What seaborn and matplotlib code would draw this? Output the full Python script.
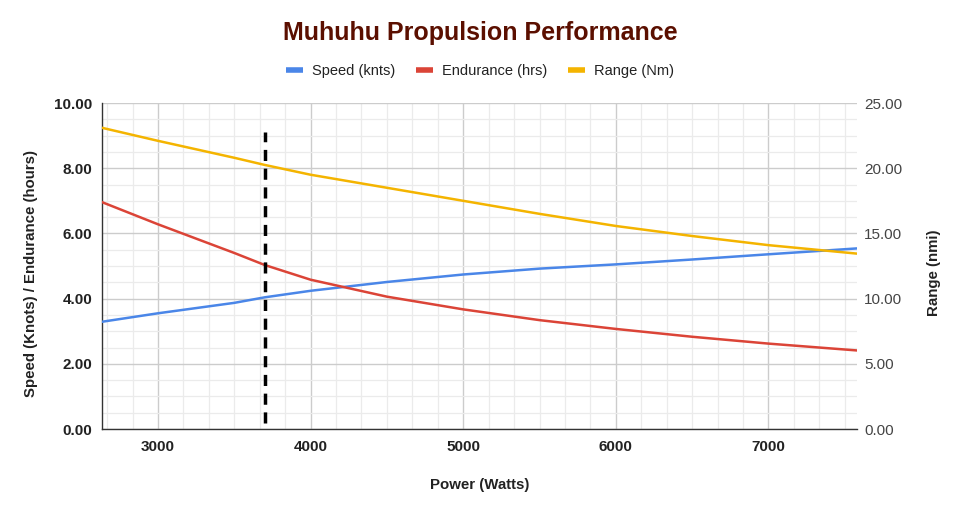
import matplotlib
matplotlib.use("Agg")
import matplotlib.pyplot as plt
from matplotlib.ticker import MultipleLocator, FormatStrFormatter
from matplotlib.lines import Line2D
import seaborn as sns
import pandas as pd

power = [2633, 3000, 3500, 3700, 4000, 4500, 5000, 5500, 6000, 6500, 7000, 7580]
speed = [3.29, 3.55, 3.87, 4.04, 4.24, 4.51, 4.74, 4.92, 5.05, 5.20, 5.36, 5.54]
endurance = [6.96, 6.28, 5.40, 5.03, 4.58, 4.06, 3.67, 3.34, 3.07, 2.83, 2.62, 2.41]
range_nm = [23.1, 22.1, 20.8, 20.25, 19.5, 18.5, 17.5, 16.5, 15.57, 14.8, 14.1, 13.45]
marker_power = 3700
marker_span = [0.2, 9.1]

series_names = ["Speed (knts)", "Endurance (hrs)", "Range (Nm)"]
colors = ["#4a86e8", "#db4437", "#f4b400"]

df = pd.DataFrame({"power": power, "speed": speed, "endurance": endurance, "range": range_nm})

sns.set_theme(style="white")
plt.rcParams["font.family"] = ["Liberation Sans", "DejaVu Sans"]

fig = plt.figure(figsize=(9.61, 5.13), dpi=100)
ax = fig.add_axes([0.1061, 0.1637, 0.7857, 0.6355])
ax2 = ax.twinx()

sns.lineplot(data=df, x="power", y="speed", ax=ax, color=colors[0], lw=1.8, zorder=3)
sns.lineplot(data=df, x="power", y="endurance", ax=ax, color=colors[1], lw=1.8, zorder=3)
sns.lineplot(data=df, x="power", y="range", ax=ax2, color=colors[2], lw=1.8, zorder=3)
ax.plot([marker_power, marker_power], marker_span, color="black", lw=2.5,
        ls=(0, (3.2, 2.2)), zorder=4)

ax.set_xlim(min(power), max(power))
ax.set_ylim(0, 10)
ax2.set_ylim(0, 25)

ax.xaxis.set_major_locator(MultipleLocator(1000))
ax.xaxis.set_minor_locator(MultipleLocator(1000 / 6))
ax.yaxis.set_major_locator(MultipleLocator(2))
ax.yaxis.set_minor_locator(MultipleLocator(0.5))
ax2.yaxis.set_major_locator(MultipleLocator(5))
ax.yaxis.set_major_formatter(FormatStrFormatter("%.2f"))
ax2.yaxis.set_major_formatter(FormatStrFormatter("%.2f"))

ax.grid(which="major", color="#cccccc", lw=1.0, zorder=0)
ax.grid(which="minor", color="#ebebeb", lw=0.9, zorder=0)
ax.set_axisbelow(True)
ax2.grid(False)

for sp in ["top", "right"]:
    ax.spines[sp].set_visible(False)
for sp in ax2.spines.values():
    sp.set_visible(False)
ax.spines["left"].set_color("#333333")
ax.spines["bottom"].set_color("#333333")
ax.spines["left"].set_linewidth(1.0)
ax.spines["bottom"].set_linewidth(1.0)

ax.tick_params(axis="x", which="both", length=0, pad=8)
ax.tick_params(axis="y", which="both", length=0, pad=7)
ax2.tick_params(axis="y", which="both", length=0, pad=5)
for lab in ax.get_xticklabels() + ax.get_yticklabels():
    lab.set_fontsize(11)
    lab.set_fontweight("bold")
    lab.set_color("#222222")
for lab in ax2.get_yticklabels():
    lab.set_fontsize(11)
    lab.set_color("#444444")

ax.set_xlabel("Power (Watts)", fontsize=10.8, fontweight="bold", color="#222222", labelpad=17)
ax.set_ylabel("Speed (Knots) / Endurance (hours)", fontsize=10.8, fontweight="bold",
              color="#222222")
ax2.set_ylabel("Range (nmi)", fontsize=10.8, fontweight="bold", color="#222222")
ax.yaxis.set_label_coords(-0.085, 0.476)
ax2.yaxis.set_label_coords(1.093, 0.478)

fig.text(0.4995, 0.935, "Muhuhu Propulsion Performance", ha="center", va="center",
         fontsize=18, fontweight="bold", color="#5b0f00")

handles = [Line2D([0], [0], color=c, lw=4, solid_capstyle="butt") for c in colors]
fig.legend(handles, series_names, loc="center", bbox_to_anchor=(0.4995, 0.861), ncol=3,
           frameon=False, fontsize=10.5, handlelength=1.2, handletextpad=0.6,
           columnspacing=1.4, labelcolor="#222222")

fig.savefig("out.png", dpi=100)
